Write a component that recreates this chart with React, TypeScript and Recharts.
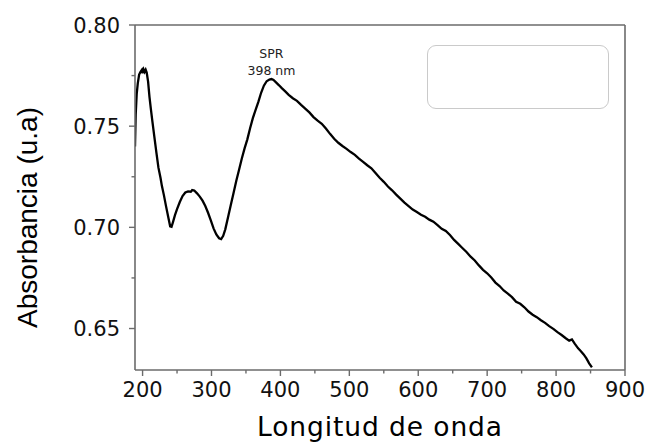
import { LineChart, Line, XAxis, YAxis, ReferenceDot, Legend, Label } from "recharts";

const wavelength = [
  189, 190, 191.5, 193, 195, 197, 199, 200, 201.5, 203, 204.5, 206, 208, 210, 212, 214, 217, 220, 223, 226, 228,
  231, 234, 237, 240, 242, 244, 247, 250, 254, 258, 262, 266, 270, 272, 275, 279, 283, 287, 291, 295, 299,
  303, 307, 311, 314, 317, 320, 324, 328, 332, 336, 340, 344, 348, 352, 356, 360, 364, 368, 372, 376, 380,
  384, 387, 390, 394, 398, 402, 407, 412, 418, 424, 430, 436, 442, 448, 454, 460, 466, 472, 478, 484, 490,
  496, 502, 508, 514, 520, 526, 532, 538, 544, 550, 556, 562, 568, 574, 580, 586, 592, 598, 604, 610, 616,
  622, 628, 634, 640, 646, 652, 658, 664, 670, 676, 682, 688, 694, 700, 706, 712, 718, 724, 730, 736, 742,
  748, 754, 760, 766, 772, 778, 784, 790, 796, 802, 808, 814, 819, 823, 827, 832, 836, 840, 844, 848, 852,
];

const absorbance = [
  0.740, 0.7555, 0.766, 0.771, 0.7755, 0.7768, 0.7778, 0.7762, 0.778, 0.7768, 0.7779, 0.7765, 0.772, 0.7645,
  0.7585, 0.753, 0.745, 0.737, 0.7295, 0.7245, 0.7205, 0.7158, 0.7105, 0.7055, 0.7005, 0.7003, 0.7025, 0.706,
  0.709, 0.7125, 0.7155, 0.7172, 0.7178, 0.7176, 0.7184, 0.7182, 0.7168, 0.7152, 0.7132, 0.7105, 0.7072, 0.7035,
  0.6995, 0.6965, 0.6946, 0.6942, 0.6958, 0.699, 0.705, 0.711, 0.717, 0.723, 0.7285, 0.734, 0.739, 0.7435,
  0.749, 0.754, 0.758, 0.762, 0.7665, 0.770, 0.7722, 0.773, 0.7733, 0.7728, 0.7715, 0.7702, 0.7688, 0.7672,
  0.7655, 0.7638, 0.7625, 0.7605, 0.7587, 0.7568, 0.7545, 0.7527, 0.7512, 0.7488, 0.7462, 0.7438, 0.7418, 0.7402,
  0.7388, 0.7372, 0.7358, 0.734, 0.7324, 0.7307, 0.7292, 0.7268, 0.7245, 0.7225, 0.7202, 0.7183, 0.7162, 0.7142,
  0.7122, 0.7105, 0.7088, 0.7076, 0.7062, 0.7052, 0.7038, 0.7028, 0.7011, 0.6993, 0.6982, 0.6962, 0.6938, 0.6918,
  0.6898, 0.6878, 0.6855, 0.6836, 0.6812, 0.679, 0.6773, 0.6752, 0.6727, 0.671, 0.6688, 0.6672, 0.6655, 0.6632,
  0.6622, 0.6605, 0.6584, 0.6568, 0.6556, 0.6541, 0.6528, 0.6512, 0.6498, 0.6482, 0.6468, 0.6452, 0.644, 0.6446,
  0.6425, 0.6402, 0.6388, 0.6372, 0.6352, 0.6328, 0.6308,
];

const xTicks = [200, 250, 300, 350, 400, 450, 500, 550, 600, 650, 700, 750, 800, 850, 900];
const yTicks = [0.65, 0.675, 0.7, 0.725, 0.75, 0.775, 0.8];
const peakText = ["SPR", "398 nm"];
const peakPoint = { x: 387, y: 0.7777 };

const data = wavelength.map((x, i) => ({ x, y: absorbance[i] }));

const AXIS = "#6b6b6b";
const SANS = "DejaVu Sans, sans-serif";

function XTick({ x, y, payload }: any) {
  const major = payload.value % 100 === 0;
  return (
    <g>
      <line x1={x} y1={y} x2={x} y2={y + (major ? 6 : 3.5)} stroke={AXIS} strokeWidth={1.4} />
      {major && (
        <text x={x} y={y + 27} textAnchor="middle" fontFamily={SANS} fontSize={21} fill="#111">
          {payload.value}
        </text>
      )}
    </g>
  );
}

function YTick({ x, y, payload }: any) {
  const major = Math.round(payload.value * 1000) % 50 === 0;
  return (
    <g>
      <line x1={x} y1={y} x2={x - (major ? 6 : 3.5)} y2={y} stroke={AXIS} strokeWidth={1.4} />
      {major && (
        <text x={x - 15} y={y + 7.5} textAnchor="end" fontFamily={SANS} fontSize={21} fill="#111">
          {payload.value.toFixed(2)}
        </text>
      )}
    </g>
  );
}

function XTitle({ viewBox }: any) {
  return (
    <text
      x={viewBox.x + viewBox.width / 2}
      y={viewBox.y + 66}
      textAnchor="middle"
      fontFamily={SANS}
      fontSize={26.5}
      letterSpacing={0.9}
      fill="#000"
    >
      Longitud de onda
    </text>
  );
}

function YTitle({ viewBox }: any) {
  const cx = viewBox.x + 37;
  const cy = viewBox.y + viewBox.height / 2 + 20;
  return (
    <text
      x={cx}
      y={cy}
      transform={`rotate(-90, ${cx}, ${cy})`}
      textAnchor="middle"
      fontFamily="Liberation Sans, Arial, sans-serif"
      fontSize={28}
      fill="#000"
    >
      Absorbancia (u.a)
    </text>
  );
}

function PeakLabel({ viewBox }: any) {
  const cx = viewBox.x + (viewBox.width || 0) / 2;
  const cy = viewBox.y + (viewBox.height || 0) / 2;
  return (
    <g fontFamily={SANS} fontSize={12.5} fill="#222" textAnchor="middle">
      <text x={cx} y={cy - 11.8}>{peakText[0]}</text>
      <text x={cx} y={cy + 4.5}>{peakText[1]}</text>
    </g>
  );
}

function EmptyLegend() {
  return (
    <div
      style={{
        width: "100%",
        height: "100%",
        boxSizing: "border-box",
        border: "1px solid #cacaca",
        borderRadius: 9,
        background: "#fff",
      }}
    />
  );
}

export default function App() {
  return (
    <div style={{ position: "fixed", left: 0, top: 0, background: "#fff" }}>
      <LineChart width={647} height={442} data={data} margin={{ top: 25, right: 22, bottom: 0, left: 0 }}>
        <Legend
          content={EmptyLegend}
          layout="horizontal"
          verticalAlign="middle"
          align="center"
          wrapperStyle={{ position: "absolute", left: 427, top: 45, width: 182, height: 64 }}
        />
        <XAxis
          dataKey="x"
          type="number"
          domain={[189, 900]}
          allowDataOverflow
          ticks={xTicks}
          interval={0}
          height={72}
          stroke={AXIS}
          strokeWidth={1.6}
          tickLine={false}
          tickSize={0}
          tickMargin={0}
          tick={<XTick />}
        >
          <Label content={XTitle} />
        </XAxis>
        <XAxis
          xAxisId="top"
          orientation="top"
          dataKey="x"
          type="number"
          domain={[189, 900]}
          allowDataOverflow
          ticks={xTicks}
          interval={0}
          height={1}
          mirror
          stroke={AXIS}
          strokeWidth={1.6}
          tickSize={3}
          tick={false}
        />
        <YAxis
          type="number"
          domain={[0.6295, 0.8]}
          allowDataOverflow
          ticks={yTicks}
          interval={0}
          width={135}
          stroke={AXIS}
          strokeWidth={1.6}
          tickLine={false}
          tickSize={0}
          tickMargin={0}
          tick={<YTick />}
        >
          <Label content={YTitle} />
        </YAxis>
        <YAxis
          yAxisId="right"
          orientation="right"
          type="number"
          domain={[0.6295, 0.8]}
          allowDataOverflow
          ticks={yTicks}
          interval={0}
          width={1}
          mirror
          stroke={AXIS}
          strokeWidth={1.6}
          tickSize={3}
          tick={false}
        />
        <Line
          xAxisId="top"
          yAxisId="right"
          dataKey="y"
          type="linear"
          stroke="none"
          dot={false}
          activeDot={false}
          legendType="none"
          isAnimationActive={false}
        />
        <Line
          dataKey="y"
          type="linear"
          stroke="#000"
          strokeWidth={2.3}
          dot={false}
          isAnimationActive={false}
        />
        <ReferenceDot x={peakPoint.x} y={peakPoint.y} r={0} fill="none" stroke="none" label={<PeakLabel />} />
      </LineChart>
    </div>
  );
}
